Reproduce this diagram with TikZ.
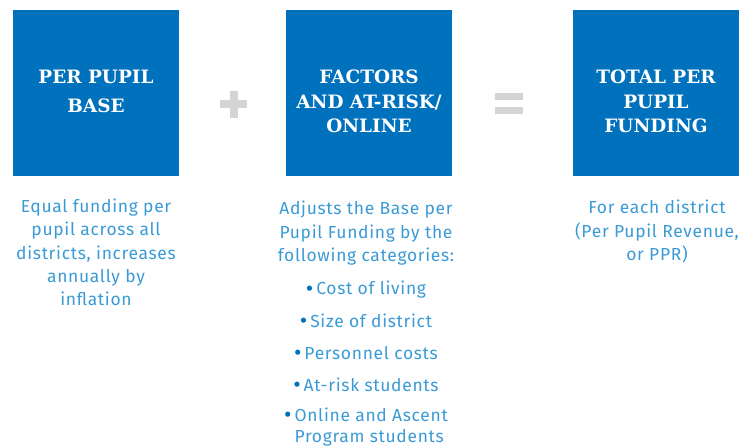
\documentclass[tikz,border=0pt]{standalone}
\usepackage{fontspec}
\setmainfont{Fira Sans}[LetterSpace=4]
\newfontfamily\slabfont{DejaVu Serif}
\usetikzlibrary{positioning}
\definecolor{boxblue}{RGB}{0,113,188}
\definecolor{textblue}{RGB}{58,154,214}
\definecolor{signgrey}{RGB}{212,212,214}
\newcommand{\bul}{\raisebox{-1.5bp}{\color{boxblue}\fontsize{23}{0}\selectfont\textbullet}\,}
\tikzset{
  headbox/.style={fill=boxblue, minimum width=166bp, minimum height=166bp,
    inner sep=0pt},
  headtitle/.style={text=white, align=center, inner sep=0pt, anchor=base,
    font=\slabfont\bfseries\fontsize{18.5}{25}\selectfont},
  desc/.style={text=textblue, align=center, inner sep=0pt, anchor=base,
    font=\fontsize{17.5}{23.7}\selectfont},
  listitem/.style={desc, anchor=base},
  signbar/.style={fill=signgrey}
}
\begin{document}
\begin{tikzpicture}[x=1bp, y=-1bp]
  \useasboundingbox (0,0) rectangle (740,447);
  % the three boxes
  \node[headbox] (base) at (96,93) {};
  \node[headbox] (factors) at (369,93) {};
  \node[headbox] (total) at (656,93) {};
  \node[headtitle, font=\slabfont\bfseries\fontsize{18.5}{30}\selectfont]
    (basetitle) at (96,113) {PER PUPIL\\BASE};
  \node[headtitle] (factorstitle) at (369,133) {FACTORS\\AND AT-RISK/\\ONLINE};
  \node[headtitle] (totaltitle) at (656,133) {TOTAL PER\\PUPIL\\FUNDING};
  % plus and equals
  \fill[signbar] (220,100) rectangle (247,108);
  \fill[signbar] (229.5,91) rectangle (237.5,118);
  \fill[signbar] (495,93) rectangle (523,100);
  \fill[signbar] (495,107) rectangle (523,114);
  % descriptions (anchored at the last line)
  \node[desc, font=\fontsize{17.5}{23.5}\selectfont] (basetxt) at (96,306)
    {Equal funding per\\pupil across all\\districts, increases\\annually by\\inflation};
  \node[desc, font=\fontsize{17.5}{24}\selectfont] (factorstxt) at (366,262)
    {Adjusts the Base per\\Pupil Funding by the\\following categories:};
  \node[desc] (totaltxt) at (657,261) {For each district\\(Per Pupil Revenue,\\or PPR)};
  % categories
  \node[listitem] (living) at (366,295) {\bul Cost of living};
  \node[listitem, below=32bp of living.base, anchor=base] (size) {\bul Size of district};
  \node[listitem, below=32bp of size.base, anchor=base] (personnel) {\bul Personnel costs};
  \node[listitem, below=32bp of personnel.base, anchor=base] (atrisk) {\bul At-risk students};
  \node[listitem, below=51bp of atrisk.base, anchor=base, align=left,
    font=\fontsize{17.5}{21}\selectfont] (online)
    {\bul Online and Ascent\\\hphantom{\bul}Program students};
\end{tikzpicture}
\end{document}
